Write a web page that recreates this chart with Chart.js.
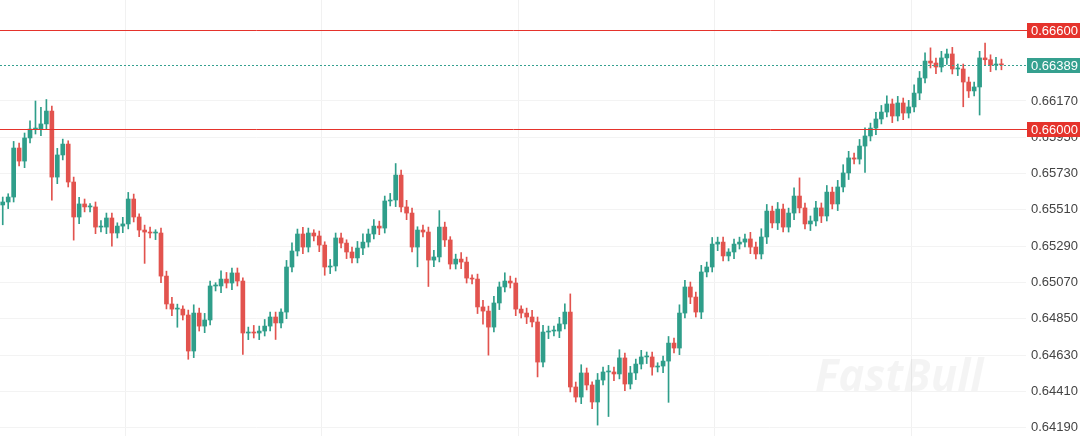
<!DOCTYPE html>
<html>
<head>
<meta charset="utf-8">
<script src="https://cdn.jsdelivr.net/npm/chart.js@4.4.0/dist/chart.umd.min.js"></script>
<style>
  html, body { margin: 0; padding: 0; background: #fff; }
  #wrap { width: 1080px; height: 436px; position: relative; }
</style>
</head>
<body>
<div id="wrap"><canvas id="candleCanvas"></canvas></div>
<script>
// closing prices
var closes = [
  0.65558, 0.65588, 0.65885, 0.65806, 0.65946, 0.66000, 0.66000, 0.66031, 0.66109, 0.65709,
  0.65843, 0.65909, 0.65679, 0.65467, 0.65546, 0.65528, 0.65528, 0.65406, 0.65406, 0.65461,
  0.65370, 0.65412, 0.65425, 0.65576, 0.65467, 0.65388, 0.65376, 0.65370, 0.65370, 0.65109,
  0.64940, 0.64909, 0.64909, 0.64873, 0.64655, 0.64885, 0.64806, 0.64843, 0.65049, 0.65049,
  0.65091, 0.65067, 0.65128, 0.65079, 0.64764, 0.64770, 0.64764, 0.64776, 0.64806, 0.64861,
  0.64825, 0.64891, 0.65164, 0.65261, 0.65364, 0.65285, 0.65370, 0.65352, 0.65297, 0.65164,
  0.65170, 0.65340, 0.65309, 0.65255, 0.65219, 0.65279, 0.65315, 0.65364, 0.65412, 0.65400,
  0.65564, 0.65570, 0.65721, 0.65528, 0.65491, 0.65285, 0.65388, 0.65376, 0.65206, 0.65225,
  0.65406, 0.65328, 0.65182, 0.65212, 0.65194, 0.65097, 0.65091, 0.64922, 0.64897, 0.64800,
  0.64946, 0.65043, 0.65079, 0.65067, 0.64909, 0.64885, 0.64861, 0.64831, 0.64588, 0.64770,
  0.64776, 0.64776, 0.64819, 0.64891, 0.64437, 0.64376, 0.64522, 0.64449, 0.64346, 0.64479,
  0.64528, 0.64528, 0.64516, 0.64613, 0.64455, 0.64522, 0.64576, 0.64619, 0.64619, 0.64558,
  0.64564, 0.64594, 0.64703, 0.64673, 0.64885, 0.65043, 0.64982, 0.64891, 0.65134, 0.65164,
  0.65303, 0.65315, 0.65231, 0.65255, 0.65303, 0.65315, 0.65334, 0.65285, 0.65243, 0.65346,
  0.65503, 0.65431, 0.65515, 0.65406, 0.65491, 0.65594, 0.65522, 0.65425, 0.65443, 0.65522,
  0.65473, 0.65618, 0.65546, 0.65649, 0.65734, 0.65825, 0.65818, 0.65897, 0.65958, 0.66006,
  0.66061, 0.66103, 0.66152, 0.66079, 0.66158, 0.66097, 0.66134, 0.66218, 0.66309, 0.66412,
  0.66400, 0.66376, 0.66431, 0.66455, 0.66364, 0.66364, 0.66285, 0.66231, 0.66255, 0.66431,
  0.66420, 0.66388, 0.66394, 0.66389
];
var firstOpen = 0.65540;

// wick lengths in pips above / below the body
var upWicks = [
  3, 2, 4, 3, 3, 5, 17, 10, 7, 3,
  4, 3, 2, 3, 4, 3, 2, 3, 4, 3,
  3, 2, 4, 4, 3, 2, 3, 3, 2, 3,
  3, 4, 3, 2, 3, 5, 3, 4, 3, 2,
  5, 4, 3, 3, 2, 3, 4, 3, 4, 3,
  3, 2, 4, 5, 3, 4, 3, 2, 3, 2,
  4, 3, 3, 2, 3, 4, 5, 3, 4, 3,
  3, 4, 7, 3, 4, 3, 2, 3, 3, 4,
  10, 3, 2, 3, 4, 3, 2, 3, 4, 3,
  4, 3, 5, 3, 3, 2, 3, 4, 3, 4,
  3, 3, 4, 5, 11, 3, 5, 3, 2, 4,
  3, 4, 3, 5, 3, 4, 3, 4, 3, 3,
  2, 3, 4, 3, 5, 4, 3, 3, 4, 3,
  4, 3, 3, 2, 3, 3, 3, 4, 3, 5,
  4, 3, 4, 3, 3, 5, 11, 3, 3, 4,
  3, 4, 3, 4, 5, 4, 3, 4, 5, 3,
  4, 4, 5, 3, 4, 3, 4, 5, 4, 5,
  8, 3, 4, 3, 4, 3, 3, 3, 3, 4,
  9, 3, 4, 3
];
var downWicks = [
  12, 4, 3, 3, 4, 3, 3, 4, 3, 14,
  4, 3, 3, 14, 4, 3, 3, 4, 3, 4,
  8, 3, 4, 3, 3, 4, 19, 3, 4, 4,
  3, 4, 11, 3, 5, 4, 3, 4, 3, 3,
  4, 3, 4, 3, 13, 4, 3, 4, 3, 3,
  10, 3, 4, 3, 3, 4, 3, 3, 4, 5,
  4, 3, 3, 4, 3, 3, 4, 3, 3, 4,
  3, 3, 4, 3, 4, 3, 12, 3, 16, 4,
  3, 4, 3, 3, 4, 3, 3, 4, 8, 17,
  3, 4, 3, 3, 4, 3, 4, 3, 9, 3,
  4, 3, 4, 3, 3, 3, 4, 3, 4, 14,
  3, 27, 4, 3, 4, 3, 4, 3, 4, 5,
  3, 4, 25, 3, 4, 3, 4, 3, 4, 3,
  3, 4, 3, 3, 4, 3, 3, 4, 3, 3,
  4, 3, 4, 3, 3, 4, 3, 3, 4, 3,
  4, 3, 3, 4, 3, 4, 3, 3, 16, 3,
  4, 3, 3, 4, 3, 4, 3, 3, 4, 3,
  3, 4, 3, 4, 3, 4, 15, 4, 3, 17,
  3, 4, 3, 3
];

var yTicks = [0.64190, 0.64410, 0.64630, 0.64850, 0.65070, 0.65290, 0.65510, 0.65730, 0.65950, 0.66170];
var redLevels = [0.66600, 0.66000];
var lastPrice = 0.66389;
var emptySlots = 4;

var green = '#2f9e8a';
var red = '#e2534e';

var labels = [], bodies = [], wicks = [], colors = [];
for (var i = 0; i < closes.length; i++) {
  var o = i === 0 ? firstOpen : closes[i - 1];
  var c = closes[i];
  labels.push(i);
  bodies.push([o, c]);
  wicks.push([Math.min(o, c) - downWicks[i] / 10000, Math.max(o, c) + upWicks[i] / 10000]);
  colors.push(c >= o ? green : red);
}
for (var k = 0; k < emptySlots; k++) { labels.push(closes.length + k); bodies.push(null); wicks.push(null); }

var labelFont = '13px "Liberation Sans"';

var levelsPlugin = {
  id: 'levels',
  afterDatasetsDraw: function (chart) {
    var ctx = chart.ctx, area = chart.chartArea, y = chart.scales.y;
    ctx.save();
    // watermark
    ctx.font = 'bold italic 44px "Open Sans"';
    ctx.fillStyle = 'rgba(0,0,0,0.045)';
    ctx.textAlign = 'left';
    ctx.textBaseline = 'middle';
    ctx.fillText('FastBull', 815, 378);

    // price labels on the right (drawn here so the plot keeps full height)
    ctx.font = labelFont;
    ctx.fillStyle = '#444';
    yTicks.forEach(function (v) {
      ctx.fillText(v.toFixed(5), 1031, y.getPixelForValue(v));
    });

    function box(v, bg, dashed) {
      var py = Math.round(y.getPixelForValue(v)) + 0.5;
      ctx.beginPath();
      ctx.setLineDash(dashed ? [2, 2] : []);
      ctx.strokeStyle = bg;
      ctx.lineWidth = 1;
      ctx.moveTo(area.left, py);
      ctx.lineTo(1027, py);
      ctx.stroke();
      ctx.setLineDash([]);
      ctx.fillStyle = bg;
      ctx.fillRect(1027, py - 7.5, 53, 15);
      ctx.fillStyle = '#fff';
      ctx.font = labelFont;
      ctx.fillText(v.toFixed(5), 1031, py + 0.5);
    }
    redLevels.forEach(function (v) { box(v, '#e5332c', false); });
    box(lastPrice, '#35a08f', true);
    ctx.restore();
  }
};

var ctx = document.getElementById('candleCanvas').getContext('2d');
var chart = new Chart(ctx, {
  type: 'bar',
  data: {
    labels: labels,
    datasets: [
      { data: wicks, backgroundColor: colors, barThickness: 1, grouped: false, order: 2 },
      { data: bodies, backgroundColor: colors, barThickness: 4, minBarLength: 1, grouped: false, order: 1 }
    ]
  },
  options: {
    responsive: true,
    maintainAspectRatio: false,
    animation: false,
    layout: { padding: 0 },
    plugins: { legend: { display: false }, tooltip: { enabled: false } },
    scales: {
      x: {
        display: true,
        ticks: { display: false },
        border: { display: false },
        grid: {
          drawTicks: false,
          color: function (c) { return c.index % 36 === 23 ? '#f1f1f1' : 'rgba(0,0,0,0)'; }
        }
      },
      y: {
        position: 'right',
        min: 0.64140,
        max: 0.66782,
        afterBuildTicks: function (axis) { axis.ticks = yTicks.map(function (v) { return { value: v }; }); },
        afterFit: function (axis) { axis.width = 54; },
        border: { display: false },
        grid: { color: '#f3f3f3', drawTicks: false },
        ticks: { display: false }
      }
    }
  },
  plugins: [levelsPlugin]
});
</script>
</body>
</html>
